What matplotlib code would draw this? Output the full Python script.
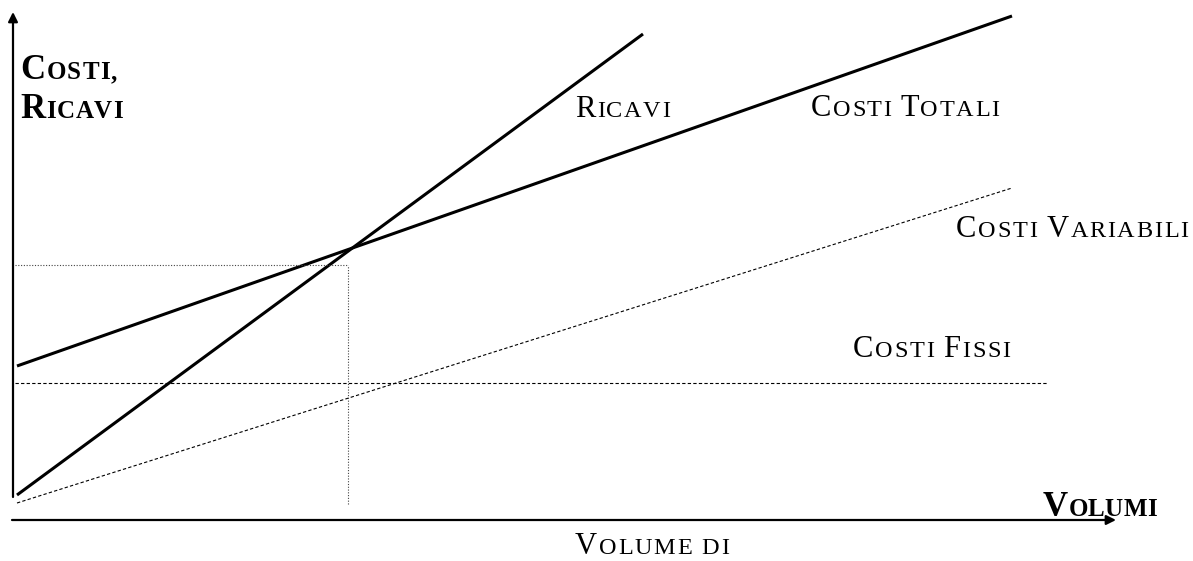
import matplotlib
matplotlib.use("Agg")
import matplotlib.pyplot as plt
from matplotlib.transforms import offset_copy

# ---- data (chart units: volume on x, costs/revenues on y) ----
ricavi_x = [2, 628]
ricavi_y = [25, 486]
costi_totali_x = [2, 997]
costi_totali_y = [154, 504]
costi_variabili_x = [2, 997]
costi_variabili_y = [17, 332]
costi_fissi_x = [0, 1032]
costi_fissi_y = [137, 137]
break_even_x = 333
break_even_y = 255
break_even_floor = 16

plt.rcParams['font.family'] = ['Liberation Serif', 'DejaVu Serif']

fig = plt.figure(figsize=(11.93, 5.61), dpi=100)
ax = fig.add_axes([0, 0, 1, 1])
ax.set_xlim(-15, 1178)
ax.set_ylim(-41, 520)
ax.axis('off')

# axes with arrows
ax.annotate('', xy=(-2, 508), xytext=(-2, 23),
            arrowprops=dict(arrowstyle='-|>', lw=1.6, color='black',
                            mutation_scale=14, shrinkA=0, shrinkB=0))
ax.annotate('', xy=(1101, 0), xytext=(-3, 0),
            arrowprops=dict(arrowstyle='-|>', lw=1.6, color='black',
                            mutation_scale=14, shrinkA=0, shrinkB=0))

# lines
ax.plot(ricavi_x, ricavi_y, color='black', lw=2.2, solid_capstyle='butt')
ax.plot(costi_totali_x, costi_totali_y, color='black', lw=2.2, solid_capstyle='butt')
ax.plot(costi_variabili_x, costi_variabili_y, color='black', lw=0.8, dashes=(3, 2))
ax.plot(costi_fissi_x, costi_fissi_y, color='black', lw=0.8, dashes=(3, 2))
ax.plot([0, break_even_x], [break_even_y, break_even_y], color='#444444', lw=0.8, dashes=(1, 1.5))
ax.plot([break_even_x, break_even_x], [break_even_floor, break_even_y], color='#444444', lw=0.8, dashes=(1, 1.5))

renderer = fig.canvas.get_renderer()


def small_caps(x, y, pieces, big, small, weight='normal', track=0.0):
    dx = 0.0
    for txt, is_big in pieces:
        size = big if is_big else small
        for ch in txt:
            if ch == ' ':
                dx += 0.25 * size * fig.dpi / 72.0 + track
                continue
            t = ax.text(x, y, ch, fontsize=size, fontweight=weight,
                        va='baseline', ha='left',
                        transform=offset_copy(ax.transData, fig=fig, x=dx, y=0, units='dots'))
            dx += t.get_window_extent(renderer).width + track


def px(x, y):
    return x - 15, 520 - y

BIG, SMALL = 22, 17.5
BBIG, BSMALL = 25, 18

small_caps(*px(20, 79), [("C", 1), ("OSTI,", 0)], BBIG, BSMALL, 'bold', 1.2)
small_caps(*px(20, 118), [("R", 1), ("ICAVI", 0)], BBIG, BSMALL, 'bold', 0.8)
small_caps(*px(1043, 516), [("V", 1), ("OLUMI", 0)], BBIG, BSMALL, 'bold', 0.2)
small_caps(*px(575, 117), [("R", 1), ("ICAVI", 0)], BIG, SMALL, track=1.5)
small_caps(*px(811, 116), [("C", 1), ("OSTI ", 0), ("T", 1), ("OTALI", 0)], BIG, SMALL, track=1.5)
small_caps(*px(956, 237), [("C", 1), ("OSTI ", 0), ("V", 1), ("ARIABILI", 0)], BIG, SMALL, track=1.7)
small_caps(*px(853, 357), [("C", 1), ("OSTI ", 0), ("F", 1), ("ISSI", 0)], BIG, SMALL, track=1.7)
small_caps(*px(575, 554), [("V", 1), ("OLUME DI", 0)], BIG, SMALL, track=1.7)

fig.savefig('out.png', dpi=100)
